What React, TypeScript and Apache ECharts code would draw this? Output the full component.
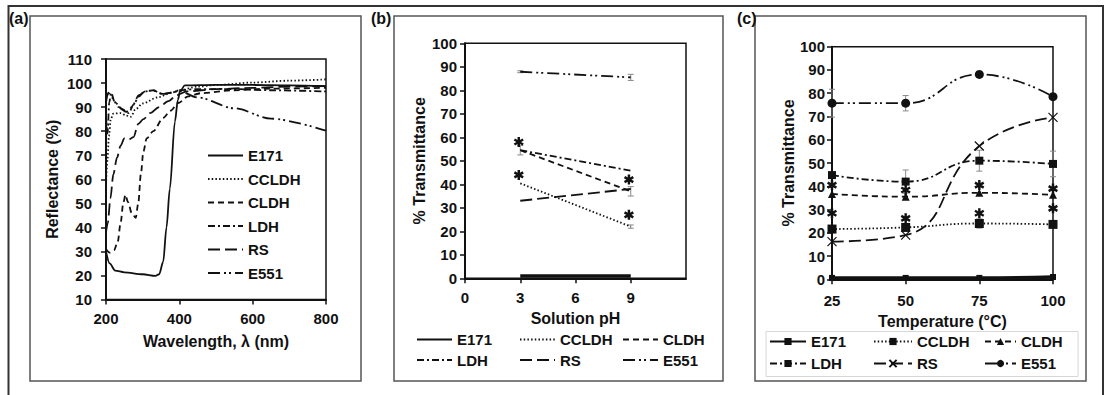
import React, { useEffect, useRef } from "react";
import * as echarts from "echarts";

// ---------- Panel (a): reflectance spectra ----------
const wlE171 = [200, 210, 225, 250, 300, 335, 345, 356, 365, 374, 388, 396, 402, 415, 500, 600, 700, 800];
const refE171 = [30, 25, 22, 21.3, 20.5, 19.8, 20.5, 25.7, 40, 56, 84, 93, 96.6, 99, 99.2, 99.2, 99, 98.7];
const wlCCLDH = [200, 204, 208, 213, 220, 240, 255, 268, 280, 300, 340, 380, 400, 450, 500, 600, 700, 800];
const refCCLDH = [58, 68, 78, 85, 87.3, 87.5, 86.5, 86, 89, 91.5, 94, 96, 97, 98.5, 99.2, 100.2, 101, 101.5];
const wlCLDH = [200, 210, 222, 232, 240, 247, 253, 260, 270, 281, 288, 295, 302, 311, 329, 356, 376, 397, 424, 460, 550, 650, 800];
const refCLDH = [31, 29.5, 30.5, 34, 42, 50, 53.5, 50.5, 46, 44, 50, 62, 71.6, 77, 80, 85.5, 88.5, 91.7, 94.5, 95.8, 97, 97.7, 98];
const wlLDH = [200, 204, 209, 214, 224, 245, 262, 275, 290, 305, 330, 350, 380, 400, 450, 550, 650, 800];
const refLDH = [86, 79, 92, 96, 92, 89, 87.5, 91, 94.5, 96.5, 97, 95.5, 96, 97, 97.5, 97.5, 97, 96.5];
const wlRS = [200, 205, 212, 220, 230, 240, 250, 262, 275, 288, 302, 320, 345, 370, 393, 420, 500, 600, 700, 800];
const refRS = [38, 42, 52, 62, 69, 74, 77, 76.5, 77.5, 83, 85, 87.5, 90, 92.5, 95, 96.5, 97.5, 98, 98.5, 98.8];
const wlE551 = [200, 206, 215, 235, 255, 270, 290, 310, 330, 355, 380, 398, 450, 550, 650, 800];
const refE551 = [92, 96, 94, 90, 88, 90, 95, 96.8, 96.8, 95.5, 96, 96.8, 94, 89.5, 85.2, 80.2];

// ---------- Panel (b): transmittance vs pH ----------
const pHValues = [3, 9];
const bE171 = [1, 1];
const bCCLDH = [40.4, 22];
const bCLDH = [54.5, 37];
const bLDH = [54.5, 45.8];
const bRS = [33, 38];
const bE551 = [87.9, 85.5];
const bErrCCLDH = [0, 0.7];
const bErrCLDH = [2, 2];
const bErrE551 = [0.4, 1.3];
const bStarX = [2.92, 2.92, 8.9, 8.9];
const bStarY = [58, 44, 42, 27];

// ---------- Panel (c): transmittance vs temperature ----------
const temps = [25, 50, 75, 100];
const cE171 = [0.6, 0.6, 0.6, 1];
const cCCLDH = [21.6, 22.3, 24, 23.6];
const cCLDH = [36.7, 35.5, 37.2, 36.3];
const cLDH = [44.8, 42, 51, 49.6];
const cRS = [16.2, 19, 57.3, 69.6];
const cE551 = [75.7, 75.7, 88.1, 78.5];
const cErrCCLDH = [1, 1.5, 2, 0.8];
const cErrLDH = [0, 5, 4.5, 5.5];
const cErrE551 = [6, 3.3, 0.8, 0.8];
const cStarX = [25, 25, 50, 50, 75, 75, 100, 100];
const cStarY = [40.5, 28.4, 38.4, 26.2, 40.5, 28.4, 39, 30.5];

const names = ["E171", "CCLDH", "CLDH", "LDH", "RS", "E551"];
const wlA: Record<string, number[]> = { E171: wlE171, CCLDH: wlCCLDH, CLDH: wlCLDH, LDH: wlLDH, RS: wlRS, E551: wlE551 };
const refA: Record<string, number[]> = { E171: refE171, CCLDH: refCCLDH, CLDH: refCLDH, LDH: refLDH, RS: refRS, E551: refE551 };
const valB: Record<string, number[]> = { E171: bE171, CCLDH: bCCLDH, CLDH: bCLDH, LDH: bLDH, RS: bRS, E551: bE551 };
const valC: Record<string, number[]> = { E171: cE171, CCLDH: cCCLDH, CLDH: cCLDH, LDH: cLDH, RS: cRS, E551: cE551 };

const FONT = '"Liberation Sans", Arial, Helvetica, sans-serif';
const INK = "#111";
const DASH: Record<string, any> = {
  E171: "solid",
  CCLDH: [1.5, 2.2],
  CLDH: [6, 4],
  LDH: [7, 3, 2, 3],
  RS: [12, 5],
  E551: [12, 4, 2, 3, 2, 4],
};
const XSYM = "path://M0,0L10,10M10,0L0,10";
const STAR =
  "path://M3.8,0L6.2,0L6.2,10L3.8,10Z" +
  "M1.27,1.46L9.93,6.46L8.73,8.54L0.07,3.54Z" +
  "M0.07,6.46L8.73,1.46L9.93,3.54L1.27,8.54Z";
const SYM: Record<string, [string, number]> = {
  E171: ["rect", 6],
  CCLDH: ["rect", 9],
  CLDH: ["triangle", 8],
  LDH: ["rect", 8],
  RS: [XSYM, 9],
  E551: ["circle", 9],
};

function errorBars(idx: number, xs: number[], ys: number[], errs: number[]) {
  const data: number[][] = [];
  xs.forEach((x, i) => {
    if (errs[i] > 0) data.push([x, ys[i] - errs[i], ys[i] + errs[i]]);
  });
  return {
    type: "custom",
    xAxisIndex: idx,
    yAxisIndex: idx,
    z: 1,
    silent: true,
    data,
    renderItem: (params: any, api: any) => {
      const x = api.value(0);
      const p1 = api.coord([x, api.value(1)]);
      const p2 = api.coord([x, api.value(2)]);
      const w = 3;
      const st = { stroke: "#8a8a8a", lineWidth: 1 };
      return {
        type: "group",
        children: [
          { type: "line", shape: { x1: p1[0], y1: p1[1], x2: p2[0], y2: p2[1] }, style: st },
          { type: "line", shape: { x1: p1[0] - w, y1: p1[1], x2: p1[0] + w, y2: p1[1] }, style: st },
          { type: "line", shape: { x1: p2[0] - w, y1: p2[1], x2: p2[0] + w, y2: p2[1] }, style: st },
        ],
      };
    },
  };
}

function stars(idx: number, xs: number[], ys: number[]) {
  return {
    type: "scatter",
    xAxisIndex: idx,
    yAxisIndex: idx,
    z: 5,
    silent: true,
    symbol: STAR,
    symbolSize: 10,
    itemStyle: { color: INK, opacity: 1 },
    data: xs.map((x, i) => [x, ys[i]]),
  };
}

function axisPair(idx: number, xMin: number, xMax: number, xInt: number, yMin: number, yMax: number, yInt: number, xName: string, yName: string, m: { xl: number; yl: number; xn: number; yn: number }) {
  const lab = { fontFamily: FONT, fontWeight: "bold" as const, fontSize: 15, color: INK };
  const nm = { fontFamily: FONT, fontWeight: "bold" as const, fontSize: 16, color: INK };
  const line = { show: true, onZero: false, lineStyle: { color: INK, width: 2 } };
  const tick = { show: true, length: 5, lineStyle: { color: INK, width: 1.5 } };
  return {
    x: {
      type: "value",
      gridIndex: idx,
      min: xMin,
      max: xMax,
      interval: xInt,
      name: xName,
      nameLocation: "middle",
      nameGap: m.xn,
      nameTextStyle: nm,
      axisLine: line,
      axisTick: { ...tick },
      splitLine: { show: false },
      axisLabel: { ...lab, margin: m.xl },
    } as any,
    y: {
      type: "value",
      gridIndex: idx,
      min: yMin,
      max: yMax,
      interval: yInt,
      name: yName,
      nameLocation: "middle",
      nameRotate: 90,
      nameGap: m.yn,
      nameTextStyle: nm,
      axisLine: line,
      axisTick: { ...tick },
      splitLine: { show: false },
      axisLabel: { ...lab, margin: m.yl },
    } as any,
  };
}

function legendItem(name: string, left: number, top: number, w: number, withSymbol: boolean, itemHeight: number) {
  return {
    show: true,
    orient: "horizontal",
    left,
    top,
    padding: 0,
    itemWidth: w,
    itemHeight,
    selectedMode: false,
    data: [name],
    formatter: (n: string) => n.split(":")[1],
    textStyle: { fontFamily: FONT, fontWeight: "bold", fontSize: 15, color: INK },
    lineStyle: { width: 2 },
    itemStyle: withSymbol ? {} : { opacity: 0 },
  };
}

function buildOption() {
  const A = axisPair(0, 200, 800, 200, 10, 110, 10, "Wavelength, \u03bb (nm)", "Reflectance (%)", { xl: 11, yl: 14, xn: 34, yn: 46 });
  const B = axisPair(1, 0, 12, 3, 0, 100, 10, "Solution pH", "% Transmittance", { xl: 12, yl: 8, xn: 30, yn: 38 });
  const C = axisPair(2, 25, 100, 25, 0, 100, 10, "Temperature (\u00b0C)", "% Transmittance", { xl: 14, yl: 7, xn: 34, yn: 34 });
  B.x.axisLabel.customValues = [0, 3, 6, 9];
  B.x.axisTick.customValues = [0, 3, 6, 9];
  B.x.axisLabel.formatter = (v: number) => (v >= 12 ? "" : String(v));

  const series: any[] = [];
  names.forEach((n) => {
    series.push({
      name: "a:" + n,
      type: "line",
      xAxisIndex: 0,
      yAxisIndex: 0,
      symbol: "none",
      smooth: 0.3,
      smoothMonotone: "x",
      z: 3,
      lineStyle: { color: INK, width: 1.8, type: DASH[n] },
      itemStyle: { color: INK },
      data: wlA[n].map((x, i) => [x, refA[n][i]]),
    });
  });
  names.forEach((n) => {
    series.push({
      name: "b:" + n,
      type: "line",
      xAxisIndex: 1,
      yAxisIndex: 1,
      symbol: "none",
      z: 3,
      lineStyle: { color: INK, width: n === "E171" ? 3.5 : 1.8, type: DASH[n] },
      itemStyle: { color: INK },
      data: pHValues.map((x, i) => [x, valB[n][i]]),
    });
  });
  names.forEach((n) => {
    const isX = n === "RS";
    series.push({
      name: "c:" + n,
      type: "line",
      xAxisIndex: 2,
      yAxisIndex: 2,
      symbol: SYM[n][0],
      symbolSize: SYM[n][1],
      smooth: 0.5,
      z: 3,
      lineStyle: { color: INK, width: n === "E171" ? 3.5 : 1.8, type: DASH[n] },
      itemStyle: isX ? { color: "transparent", borderColor: INK, borderWidth: 1.2 } : { color: INK },
      data: temps.map((x, i) => [x, valC[n][i]]),
    });
  });

  series.push(errorBars(1, pHValues, bCCLDH, bErrCCLDH));
  series.push(errorBars(1, pHValues, bCLDH, bErrCLDH));
  series.push(errorBars(1, pHValues, bE551, bErrE551));
  series.push(errorBars(2, temps, cCCLDH, cErrCCLDH));
  series.push(errorBars(2, temps, cLDH, cErrLDH));
  series.push(errorBars(2, temps, cE551, cErrE551));
  series.push(stars(1, bStarX, bStarY));
  series.push(stars(2, cStarX, cStarY));

  const legends: any[] = [
    {
      show: true,
      orient: "vertical",
      left: 207,
      top: 148,
      padding: 0,
      itemWidth: 35,
      itemHeight: 14,
      itemGap: 8.5,
      selectedMode: false,
      data: names.map((n) => "a:" + n),
      formatter: (n: string) => n.split(":")[1],
      textStyle: { fontFamily: FONT, fontWeight: "bold", fontSize: 15, color: INK },
      lineStyle: { width: 2 },
      itemStyle: { opacity: 0 },
    },
  ];
  const bCols = [416, 519, 622];
  const bRows = [332, 352.5];
  names.forEach((n, i) => {
    legends.push(legendItem("b:" + n, bCols[i % 3], bRows[Math.floor(i / 3)], 35, false, 14));
  });
  const cCols = [769, 873, 984];
  const cW = [36, 38, 31];
  const cRows = [334, 356];
  names.forEach((n, i) => {
    legends.push(legendItem("c:" + n, cCols[i % 3], cRows[Math.floor(i / 3)], cW[i % 3], true, 9));
  });

  const boxStyle = { fill: "none", stroke: "#555", lineWidth: 1.5 };
  const lblFont = `bold 16px ${FONT}`;
  const graphic = [
    { type: "rect", shape: { x: 8.5, y: 6, width: 1094.5, height: 420 }, style: { fill: "none", stroke: "#333", lineWidth: 2 }, silent: true, z: -10 },
    { type: "rect", shape: { x: 30, y: 16, width: 331, height: 365 }, style: boxStyle, silent: true, z: -10 },
    { type: "rect", shape: { x: 394, y: 16, width: 329, height: 365 }, style: boxStyle, silent: true, z: -10 },
    { type: "rect", shape: { x: 755, y: 16, width: 331, height: 365 }, style: boxStyle, silent: true, z: -10 },
    { type: "rect", shape: { x: 766, y: 331.5, width: 312, height: 45 }, style: { fill: "none", stroke: "#d8d8d8", lineWidth: 1 }, silent: true, z: -10 },
    { type: "text", x: 9, y: 18, style: { text: "(a)", font: lblFont, fill: INK, verticalAlign: "middle" }, silent: true },
    { type: "text", x: 371, y: 18, style: { text: "(b)", font: lblFont, fill: INK, verticalAlign: "middle" }, silent: true },
    { type: "text", x: 737, y: 18, style: { text: "(c)", font: lblFont, fill: INK, verticalAlign: "middle" }, silent: true },
  ];

  return {
    animation: false,
    backgroundColor: "#fff",
    textStyle: { fontFamily: FONT },
    grid: [
      { left: 106, top: 59, width: 220, height: 240.5, show: true, borderColor: INK, borderWidth: 1.5 },
      { left: 465, top: 43.3, width: 221, height: 235, show: true, borderColor: INK, borderWidth: 1.5 },
      { left: 832, top: 46.7, width: 221, height: 232.6, show: true, borderColor: INK, borderWidth: 1.5 },
    ],
    xAxis: [A.x, B.x, C.x],
    yAxis: [A.y, B.y, C.y],
    legend: legends,
    series,
    graphic,
  };
}

export default function App() {
  const ref = useRef<HTMLDivElement>(null);
  useEffect(() => {
    if (!ref.current) return;
    const chart = echarts.init(ref.current, undefined, { renderer: "svg" });
    chart.setOption(buildOption() as any);
    return () => chart.dispose();
  }, []);
  return <div ref={ref} style={{ position: "fixed", left: 0, top: 0, width: 1108, height: 395, background: "#fff" }} />;
}
